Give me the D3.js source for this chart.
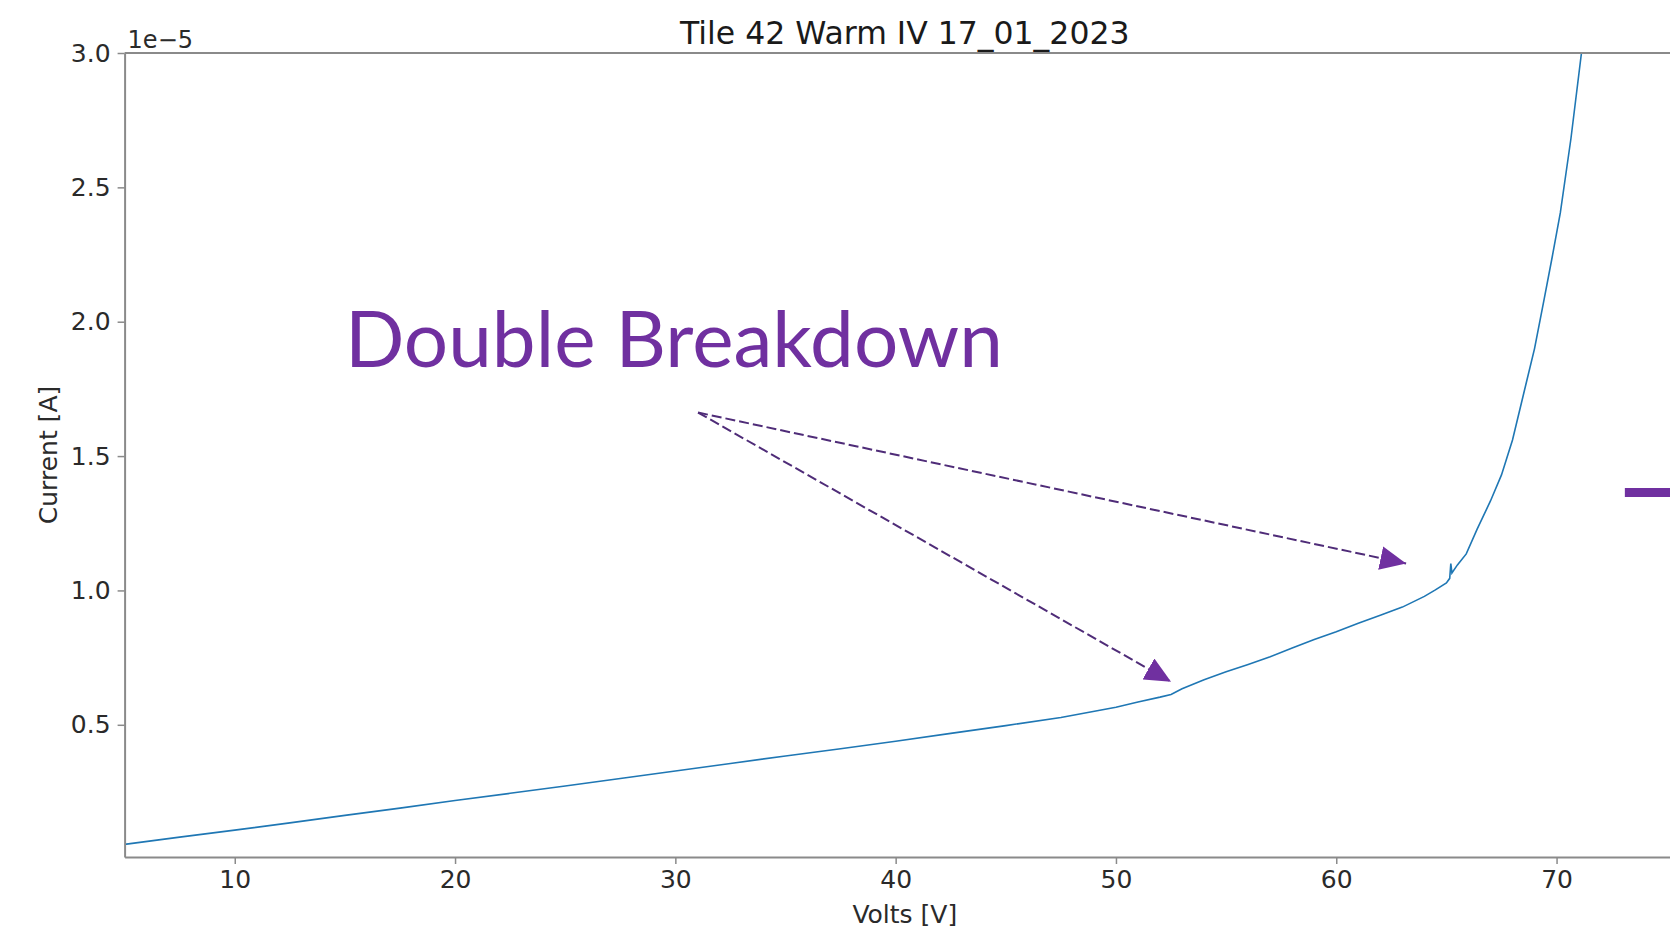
<!DOCTYPE html>
<html>
<head>
<meta charset="utf-8">
<script src="https://cdn.jsdelivr.net/npm/d3@7"></script>
<style>
  body { margin: 0; background: #fff; overflow: hidden; }
  text { font-family: "DejaVu Sans", sans-serif; }
</style>
</head>
<body>
<svg id="chart"></svg>
<script>
// IV sweep, current in units of 1e-5 A
const volts = [5, 7.5, 10, 12.5, 15, 17.5, 20, 22.5, 25, 27.5, 30, 32.5, 35, 37.5, 40, 42.5, 45, 47.5,
  50, 51, 52, 52.5, 53, 53.5, 54, 55, 56, 57, 58, 59, 60, 61, 62, 63, 64, 64.5, 65, 65.15, 65.2, 65.25,
  65.5, 65.9, 66.4, 67.0, 67.5, 68.0, 68.5, 69.0, 69.45, 69.8, 70.17, 70.65, 71.13, 71.5];
const current = [0.055, 0.082, 0.108, 0.135, 0.163, 0.190, 0.218, 0.245, 0.272, 0.300, 0.328, 0.356, 0.384, 0.411, 0.439, 0.468, 0.497, 0.527,
  0.565, 0.585, 0.603, 0.613, 0.634, 0.651, 0.668, 0.697, 0.724, 0.753, 0.786, 0.817, 0.846, 0.878, 0.908, 0.938, 0.978, 1.002, 1.028, 1.045, 1.100, 1.065,
  1.095, 1.136, 1.229, 1.333, 1.430, 1.560, 1.730, 1.900, 2.090, 2.240, 2.405, 2.680, 3.000, 3.200];

const xTicks = [10, 20, 30, 40, 50, 60, 70];
const yTicks = [0.5, 1.0, 1.5, 2.0, 2.5, 3.0];

// annotation anchors in data units (volts, 1e-5 A)
const arrowStart = [31.03, 1.662];
const arrowTips = [[52.5, 0.66], [63.17, 1.10]];
const labelPos = [15.0, 1.83];
const stubArrow = [[73.1, 1.364], [76, 1.364]];

const width = 1670, height = 932;
const margin = { top: 53, right: -15, bottom: 75, left: 124.6 };

const svg = d3.select("#chart")
    .attr("width", width)
    .attr("height", height);

const x = d3.scaleLinear()
    .domain([5, 75.83])
    .range([margin.left, width - margin.right]);

const y = d3.scaleLinear()
    .domain([0.008, 3.0])
    .range([height - margin.bottom, margin.top]);

svg.append("defs").append("clipPath")
    .attr("id", "plotClip")
    .append("rect")
    .attr("x", x.range()[0])
    .attr("y", y.range()[1])
    .attr("width", x.range()[1] - x.range()[0])
    .attr("height", y.range()[0] - y.range()[1]);

svg.select("defs").append("marker")
    .attr("id", "head")
    .attr("markerUnits", "userSpaceOnUse")
    .attr("markerWidth", 28)
    .attr("markerHeight", 24)
    .attr("refX", 26)
    .attr("refY", 12)
    .attr("orient", "auto")
    .append("path")
    .attr("d", "M0,0 L26,12 L0,24 Z")
    .attr("fill", "#7030a0");

const line = d3.line()
    .x((d, i) => x(volts[i]))
    .y(d => y(d));

svg.append("path")
    .datum(current)
    .attr("clip-path", "url(#plotClip)")
    .attr("fill", "none")
    .attr("stroke", "#1f77b4")
    .attr("stroke-width", 1.6)
    .attr("d", line);

// axes
const spine = "#8a8a8a";
const xAxis = svg.append("g")
    .attr("transform", `translate(0,${y.range()[0]})`)
    .call(d3.axisBottom(x).tickValues(xTicks).tickSize(7).tickPadding(6).tickSizeOuter(0).tickFormat(d3.format("d")));
const yAxis = svg.append("g")
    .attr("transform", `translate(${x.range()[0]},0)`)
    .call(d3.axisLeft(y).tickValues(yTicks).tickSize(7).tickPadding(7).tickSizeOuter(0).tickFormat(d3.format(".1f")));

[xAxis, yAxis].forEach(g => {
  g.select(".domain").attr("stroke", spine).attr("stroke-width", 2);
  g.selectAll(".tick line").attr("stroke", spine).attr("stroke-width", 1.5);
  g.selectAll(".tick text")
      .attr("fill", "#2a2a2a")
      .style("font-family", "DejaVu Sans")
      .style("font-size", "25px");
});

// top spine
svg.append("line")
    .attr("x1", x.range()[0]).attr("x2", width)
    .attr("y1", y.range()[1]).attr("y2", y.range()[1])
    .attr("stroke", spine).attr("stroke-width", 2);

svg.append("text")
    .attr("x", x.range()[0] + 3)
    .attr("y", y.range()[1] - 5)
    .attr("fill", "#2a2a2a")
    .attr("font-size", "24px")
    .text("1e\u22125");

svg.append("text")
    .attr("x", (x.range()[0] + x.range()[1]) / 2)
    .attr("y", 44)
    .attr("text-anchor", "middle")
    .attr("fill", "#1a1a1a")
    .attr("font-size", "31.5px")
    .text("Tile 42 Warm IV 17_01_2023");

svg.append("text")
    .attr("x", (x.range()[0] + x.range()[1]) / 2)
    .attr("y", 923)
    .attr("text-anchor", "middle")
    .attr("fill", "#2a2a2a")
    .attr("font-size", "25px")
    .text("Volts [V]");

svg.append("text")
    .attr("transform", "rotate(-90)")
    .attr("x", -(y.range()[0] + y.range()[1]) / 2)
    .attr("y", 57)
    .attr("text-anchor", "middle")
    .attr("fill", "#2a2a2a")
    .attr("font-size", "25px")
    .text("Current [A]");

// annotation overlay
svg.append("text")
    .attr("x", x(labelPos[0]))
    .attr("y", y(labelPos[1]))
    .attr("fill", "#7030a0")
    .attr("font-size", "78px")
    .attr("textLength", 658)
    .attr("lengthAdjust", "spacingAndGlyphs")
    .style("font-family", "Lato, 'Open Sans', sans-serif")
    .text("Double Breakdown");

svg.selectAll(".arrow")
    .data(arrowTips)
    .join("line")
    .attr("class", "arrow")
    .attr("x1", x(arrowStart[0]))
    .attr("y1", y(arrowStart[1]))
    .attr("x2", d => x(d[0]))
    .attr("y2", d => y(d[1]))
    .attr("stroke", "#4f2c78")
    .attr("stroke-width", 2)
    .attr("stroke-dasharray", "10,4")
    .attr("marker-end", "url(#head)");

svg.append("line")
    .attr("x1", x(stubArrow[0][0]))
    .attr("x2", x(stubArrow[1][0]))
    .attr("y1", y(stubArrow[0][1]))
    .attr("y2", y(stubArrow[1][1]))
    .attr("stroke", "#7030a0")
    .attr("stroke-width", 9);
</script>
</body>
</html>
